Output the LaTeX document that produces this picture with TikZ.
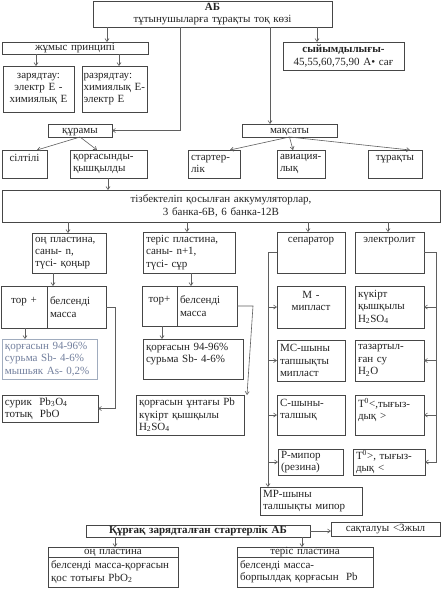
\documentclass[tikz,border=0pt]{standalone}
\usepackage{fontspec}
\setmainfont{Liberation Serif}
\usetikzlibrary{arrows.meta}
\definecolor{lc}{RGB}{70,70,70}
\definecolor{ac}{RGB}{95,95,95}
\definecolor{tc}{RGB}{35,35,35}
\definecolor{fc}{RGB}{115,128,158}
\definecolor{fb}{RGB}{160,172,190}
\newcommand\fs{\fontsize{11}{12.3}\selectfont}
\newcommand\ee{\mbox{}}
\begin{document}
\begin{tikzpicture}[x=1pt,y=-1pt,
  bx/.style={draw=lc, line width=0.8pt, anchor=north west, inner xsep=3pt, inner ysep=0pt, outer sep=0pt, font=\fs, text=tc},
  one/.style={text height=7.6pt, text depth=2.2pt},
  arr/.style={draw=ac, line width=0.6pt, -{Straight Barb[length=3pt,width=4pt]}},
  ln/.style={draw=ac, line width=0.6pt}]
\useasboundingbox[fill=white] (0,0) rectangle (441,600);
% top
\node[bx, minimum width=239pt, minimum height=26pt, text width=233pt, align=center] (ab) at (93,1) {\textbf{АБ}\\тұтынушыларға тұрақты тоқ көзі};
\node[bx, one, minimum width=146pt, minimum height=12pt, text width=140pt, align=center] (jp) at (2,42) {жұмыс принципі};
\node[bx, minimum width=121pt, minimum height=28pt, text width=115pt, align=center] (syy) at (283,42) {\textbf{сыйымдылығы-}\\45,55,60,75,90 А• сағ};
\node[bx, minimum width=71pt, minimum height=46pt, text width=65pt, align=center] (zar) at (3,66) {зарядтау:\\электр Е -\\химиялық Е};
\node[bx, inner xsep=1.5pt, minimum width=65pt, minimum height=46pt, text width=62pt, align=left] (raz) at (82,66) {разрядтау:\\химиялық Е-\\электр Е};
\node[bx, one, minimum width=64pt, minimum height=13pt, text width=58pt, align=center] (qur) at (48,124) {құрамы};
\node[bx, one, minimum width=95pt, minimum height=13pt, text width=89pt, align=center] (maq) at (242,124) {мақсаты};
\node[bx, minimum width=45pt, minimum height=28pt, text width=39pt, align=center] (sil) at (2,150) {сілтілі\\\ee};
\node[bx, minimum width=77pt, minimum height=28pt, text width=71pt, align=left] (qk) at (70,150) {қорғасынды-\\қышқылды};
\node[bx, minimum width=52pt, minimum height=28pt, text width=46pt, align=left] (st) at (188,150) {стартер-\\лік};
\node[bx, minimum width=48pt, minimum height=28pt, text width=42pt, align=left] (av) at (277,150) {авиация-\\лық};
\node[bx, minimum width=54pt, minimum height=28pt, text width=48pt, align=center] (tur) at (368,150) {тұрақты\\\ee};
\node[bx, minimum width=438pt, minimum height=32pt, text width=432pt, align=center] (tiz) at (2,190) {тізбектеліп қосылған аккумуляторлар,\\3 банка-6В, 6 банка-12В};
% level 2
\node[bx, minimum width=74pt, minimum height=40pt, text width=68pt, align=left] (on) at (32,233) {оң пластина,\\саны- n,\\түсі- қоңыр};
\node[bx, minimum width=92pt, minimum height=41pt, text width=86pt, align=left] (ter) at (143,232) {теріс пластина,\\саны- n+1,\\түсі- сұр};
\node[bx, minimum width=68pt, minimum height=41pt, text width=62pt, align=center] (sep) at (277,232) {сепаратор\\\ee\\\ee};
\node[bx, minimum width=69pt, minimum height=41pt, text width=63pt, align=center] (el) at (355,232) {электролит\\\ee\\\ee};
\node[bx, minimum width=46pt, minimum height=42pt, text width=40pt, align=center] (tor1a) at (1,286) {тор +\\\ee};
\node[bx, minimum width=59pt, minimum height=42pt, text width=53pt, align=left] (tor1b) at (47,286) {белсенді\\масса};
\node[bx, minimum width=35pt, minimum height=40pt, text width=29pt, align=center] (tor2a) at (142,286) {тор+\\\ee};
\node[bx, minimum width=60pt, minimum height=40pt, text width=54pt, align=left] (tor2b) at (177,286) {белсенді\\масса};
\node[bx, minimum width=68pt, minimum height=42pt, text width=62pt, align=center] (mm) at (277,286) {M -\\мипласт\\\ee};
\node[bx, minimum width=69pt, minimum height=42pt, text width=63pt, align=left] (kuk) at (355,286) {күкірт\\қышқылы\\H\textsubscript{2}SO\textsubscript{4}};
\node[bx, draw=fb, text=fc, minimum width=95pt, minimum height=40pt, text width=89pt, align=left] (qor1) at (2,339) {қорғасын 94-96\%\\сурьма Sb- 4-6\%\\мышьяк As- 0,2\%};
\node[bx, minimum width=100pt, minimum height=40pt, text width=94pt, align=left] (qor2) at (143,339) {қорғасын 94-96\%\\сурьма Sb- 4-6\%\\\ee};
\node[bx, minimum width=68pt, minimum height=41pt, text width=62pt, align=left] (ms) at (277,340) {МС-шыны\\тапшықты\\мипласт};
\node[bx, minimum width=69pt, minimum height=41pt, text width=63pt, align=left] (taz) at (355,340) {тазартыл-\\ған су\\H\textsubscript{2}O};
\node[bx, minimum width=96pt, minimum height=27pt, text width=90pt, align=left] (sur) at (2,395) {сурик~~Pb\textsubscript{3}O\textsubscript{4}\\тотық~~PbO};
\node[bx, minimum width=108pt, minimum height=40pt, text width=102pt, align=left] (pb) at (136,395) {қорғасын ұнтағы Pb\\күкірт қышқылы\\H\textsubscript{2}SO\textsubscript{4}};
\node[bx, minimum width=68pt, minimum height=40pt, text width=62pt, align=left] (cs) at (277,395) {С-шыны-\\талшық\\\ee};
\node[bx, minimum width=69pt, minimum height=40pt, text width=63pt, align=left] (t1) at (355,395) {T\textsuperscript{0}<,тығыз-\\дық >\\\ee};
\node[bx, minimum width=65pt, minimum height=26pt, text width=59pt, align=left] (rm) at (278,449) {Р-мипор\\(резина)};
\node[bx, minimum width=72pt, minimum height=26pt, text width=66pt, align=left] (t2) at (353,449) {T\textsuperscript{0}>, тығыз-\\дық <};
\node[bx, minimum width=102pt, minimum height=28pt, text width=96pt, align=left] (mp) at (260,487) {МР-шыны\\талшықты мипор};
% bottom
\node[bx, one, minimum width=224pt, minimum height=12pt, text width=218pt, align=center] (kz) at (86,525) {\textbf{Құрғақ зарядталған стартерлік АБ}};
\node[bx, one, minimum width=109pt, minimum height=14pt, text width=103pt, align=center] (saq) at (331,522) {сақталуы <3жыл};
\node[bx, one, minimum width=130pt, minimum height=10pt, text width=124pt, align=center] (on2h) at (48,547) {оң пластина};
\node[bx, minimum width=130pt, minimum height=30pt, text width=124pt, align=left] (on2b) at (48,557) {белсенді масса-қорғасын\\қос тотығы PbO\textsubscript{2}};
\node[bx, one, minimum width=136pt, minimum height=10pt, text width=130pt, align=center] (ter2h) at (237,547) {теріс пластина};
\node[bx, minimum width=136pt, minimum height=30pt, text width=130pt, align=left] (ter2b) at (237,557) {белсенді масса-\\борпылдақ қорғасын~~Pb};
% guide coordinates
\foreach \v in {25,36,37,53,68,97,107,108,115,119,162,180,187,191,230,247,253,268,270,293,302,308,317,388,410,436}
  \coordinate (c\v) at (\v,0);
% connectors
\draw[arr] (ab.south -| c107) -- (jp.north -| c107);
\draw[arr] (ab.south -| c180) |- (qur.east);
\draw[arr] (ab.south -| c270) -- (maq.north -| c270);
\draw[arr] (ab.south -| c317) -- (syy.north -| c317);
\draw[arr] (jp.south -| c36) -- (zar.north -| c36);
\draw[arr] (jp.south -| c119) -- (raz.north -| c119);
\draw[arr] (qur.south) -- (sil.north -| c37);
\draw[arr] (qur.south) -- (qk.north -| c97);
\draw[arr] (maq.south) -- (st.north -| c230);
\draw[arr] (maq.south) -- (av.north -| c293);
\draw[arr] (maq.south) -- (tur.north -| c410);
\draw[arr] (qk.south -| c108) -- (tiz.north -| c108);
\draw[arr] (tiz.south -| c68) -- (on.north -| c68);
\draw[arr] (tiz.south -| c187) -- (ter.north -| c187);
\draw[arr] (tiz.south -| c308) -- (sep.north -| c308);
\draw[arr] (tiz.south -| c388) -- (el.north -| c388);
\draw[arr] (on.south -| c53) -- (tor1b.north -| c53);
\draw[arr] (ter.south -| c191) -- (tor2b.north -| c191);
\draw[arr] (tor1a.south -| c25) -- (qor1.north -| c25);
\draw[arr] (tor2a.south -| c162) -- (qor2.north -| c162);
\draw[arr] (tor1b.east) -- (tor1b.east -| c115) -- (c115 |- sur.east) -- (sur.east);
\draw[arr] (tor2b.east) -- (tor2b.east -| c253) -- (pb.north -| c247);
% separator branch
\draw[ln] (sep.west) -- (sep.west -| c268);
\draw[arr] (sep.west -| c268) -- (mp.north -| c268);
\draw[arr] (mm.west -| c268) -- (mm.west);
\draw[arr] (ms.west -| c268) -- (ms.west);
\draw[arr] (cs.west -| c268) -- (cs.west);
\draw[arr] (rm.west -| c268) -- (rm.west);
% electrolyte branch
\draw[arr] (el.east) -- (el.east -| c436) -- (c436 |- t2.east) -- (t2.east);
\draw[arr] (kuk.east -| c436) -- (kuk.east);
\draw[arr] (taz.east -| c436) -- (taz.east);
\draw[arr] (t1.east -| c436) -- (t1.east);
% bottom
\draw[arr] (kz.east) -- (kz.east -| saq.west);
\draw[arr] (kz.south -| c115) -- (on2h.north -| c115);
\draw[arr] (kz.south -| c302) -- (ter2h.north -| c302);
\end{tikzpicture}
\end{document}
